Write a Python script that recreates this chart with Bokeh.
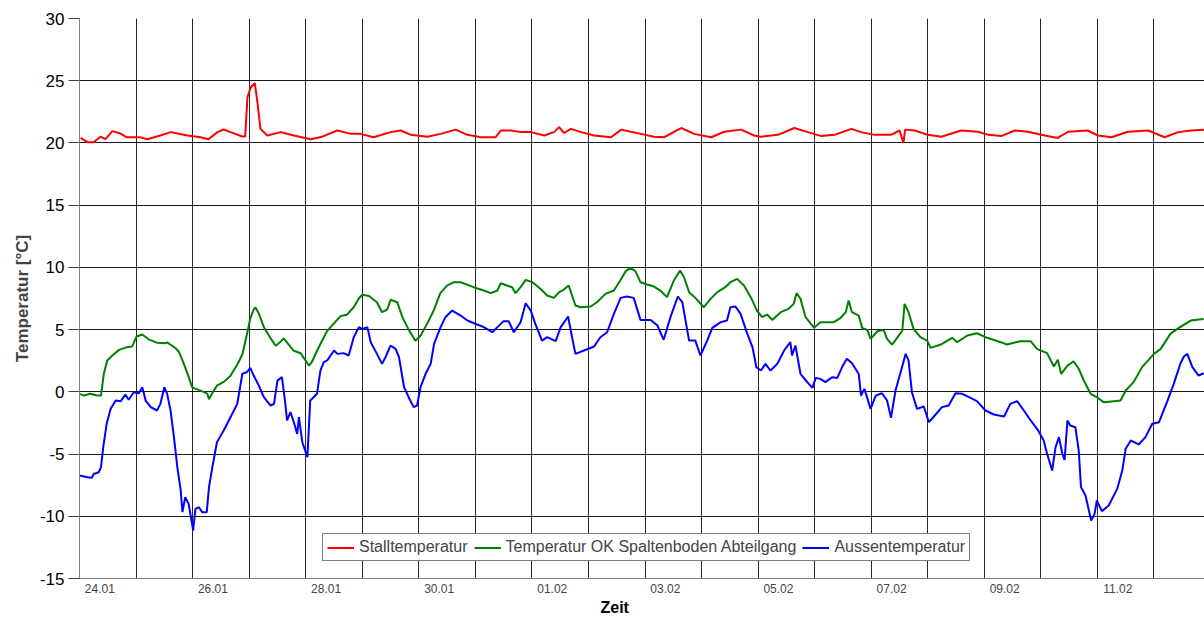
from bokeh.plotting import figure
from bokeh.models import FixedTicker, Range1d, Legend, LegendItem, Title
from bokeh.embed import file_html
from bokeh.resources import INLINE

# time axis: days since 24.01 00:00
tick_labels = ["24.01", "26.01", "28.01", "30.01", "01.02", "03.02", "05.02",
               "07.02", "09.02", "11.02"]
tick_days = [0, 2, 4, 6, 8, 10, 12, 14, 16, 18]
grid_days = list(range(0, 20))
y_ticks = [-15, -10, -5, 0, 5, 10, 15, 20, 25, 30]

stall_t = [0.02, 0.14, 0.25, 0.37, 0.46, 0.58, 0.70, 0.84, 1.08, 1.20, 1.43, 1.61, 1.91,
           2.14, 2.28, 2.44, 2.55, 2.67, 2.88, 2.93, 2.97, 3.03, 3.10, 3.15, 3.20, 3.32,
           3.56, 3.79, 4.09, 4.27, 4.56, 4.80, 4.97, 5.20, 5.50, 5.68, 5.86, 6.15, 6.39,
           6.65, 6.86, 7.10, 7.36, 7.45, 7.63, 7.81, 7.98, 8.22, 8.39, 8.48, 8.57, 8.69,
           8.87, 9.10, 9.40, 9.58, 9.75, 9.93, 10.16, 10.34, 10.52, 10.64, 10.87, 11.17,
           11.40, 11.70, 11.93, 12.05, 12.35, 12.64, 12.88, 13.12, 13.35, 13.65, 13.82,
           14.06, 14.35, 14.50, 14.53, 14.57, 14.60, 14.77, 15.00, 15.24, 15.59, 15.89,
           16.07, 16.30, 16.54, 16.77, 17.07, 17.30, 17.48, 17.83, 18.01, 18.25, 18.54,
           18.90, 19.19, 19.43, 19.66, 19.89]
stall_v = [20.41, 20.06, 20.06, 20.50, 20.30, 20.95, 20.80, 20.45, 20.45, 20.30, 20.60,
           20.87, 20.60, 20.45, 20.30, 20.87, 21.08, 20.87, 20.52, 20.52, 23.68, 24.48,
           24.80, 23.14, 21.13, 20.60, 20.87, 20.60, 20.30, 20.47, 21.00, 20.73, 20.73,
           20.46, 20.87, 21.00, 20.65, 20.50, 20.73, 21.07, 20.65, 20.46, 20.46, 21.00,
           21.00, 20.87, 20.87, 20.60, 20.87, 21.27, 20.80, 21.13, 20.87, 20.60, 20.46,
           21.07, 20.90, 20.73, 20.50, 20.46, 20.90, 21.20, 20.73, 20.46, 20.90, 21.07,
           20.60, 20.50, 20.65, 21.20, 20.87, 20.55, 20.65, 21.13, 20.87, 20.65, 20.65,
           21.00, 20.60, 20.00, 21.07, 21.00, 20.65, 20.50, 21.00, 20.90, 20.65, 20.55,
           21.00, 20.90, 20.60, 20.40, 20.90, 21.00, 20.60, 20.46, 20.90, 21.00, 20.46,
           20.87, 21.00, 21.07]

spalt_t = [0.00, 0.08, 0.19, 0.31, 0.38, 0.43, 0.49, 0.58, 0.70, 0.84, 0.93, 1.01, 1.11,
           1.23, 1.37, 1.52, 1.55, 1.67, 1.70, 1.76, 1.84, 1.93, 1.99, 2.02, 2.14, 2.26,
           2.29, 2.35, 2.43, 2.55, 2.67, 2.79, 2.88, 2.96, 3.02, 3.08, 3.11, 3.17, 3.26,
           3.38, 3.47, 3.55, 3.61, 3.70, 3.79, 3.91, 4.00, 4.06, 4.11, 4.20, 4.29, 4.38,
           4.50, 4.62, 4.73, 4.85, 4.94, 5.00, 5.12, 5.26, 5.35, 5.44, 5.50, 5.62, 5.71,
           5.82, 5.94, 6.03, 6.15, 6.27, 6.38, 6.50, 6.62, 6.74, 6.97, 7.15, 7.27, 7.39,
           7.45, 7.56, 7.65, 7.71, 7.80, 7.89, 8.01, 8.15, 8.27, 8.39, 8.48, 8.56, 8.65,
           8.71, 8.77, 8.86, 9.04, 9.15, 9.30, 9.45, 9.57, 9.66, 9.74, 9.83, 9.92, 10.04,
           10.16, 10.27, 10.39, 10.51, 10.62, 10.69, 10.78, 10.89, 11.04, 11.16, 11.28,
           11.42, 11.51, 11.63, 11.75, 11.87, 11.98, 12.07, 12.16, 12.25, 12.40, 12.54,
           12.63, 12.68, 12.75, 12.84, 12.99, 13.10, 13.34, 13.46, 13.55, 13.60, 13.66,
           13.78, 13.84, 13.93, 13.99, 14.11, 14.22, 14.28, 14.37, 14.49, 14.55, 14.59,
           14.66, 14.75, 14.87, 14.99, 15.05, 15.23, 15.43, 15.52, 15.70, 15.87, 16.05,
           16.29, 16.40, 16.64, 16.82, 16.93, 17.11, 17.23, 17.30, 17.36, 17.47, 17.58,
           17.67, 17.76, 17.88, 17.99, 18.11, 18.29, 18.41, 18.50, 18.64, 18.79, 19.00,
           19.12, 19.29, 19.44, 19.65, 19.88]
spalt_v = [-0.16, -0.30, -0.16, -0.30, -0.30, 1.44, 2.52, 2.92, 3.37, 3.59, 3.64, 4.45,
           4.61, 4.20, 3.95, 3.90, 3.97, 3.60, 3.50, 3.20, 2.30, 1.20, 0.40, 0.30, 0.10,
           -0.15, -0.60, -0.10, 0.50, 0.80, 1.30, 2.20, 3.00, 4.60, 5.90, 6.60, 6.80,
           6.30, 5.20, 4.30, 3.70, 4.00, 4.30, 3.80, 3.30, 3.10, 2.50, 2.10, 2.40, 3.30,
           4.10, 4.90, 5.50, 6.10, 6.20, 6.80, 7.50, 7.80, 7.70, 7.20, 6.40, 6.60, 7.40,
           7.20, 6.00, 5.00, 4.10, 4.50, 5.50, 6.60, 7.93, 8.54, 8.81, 8.81, 8.41, 8.14,
           7.93, 8.14, 8.73, 8.54, 8.41, 7.93, 8.41, 9.00, 8.81, 8.28, 7.74, 7.55, 8.01,
           8.20, 8.54, 7.74, 6.94, 6.80, 6.86, 7.20, 7.87, 8.14, 9.00, 9.70, 9.96, 9.70,
           8.81, 8.62, 8.46, 8.14, 7.61, 8.94, 9.75, 9.21, 8.01, 7.55, 6.80, 7.47, 8.01,
           8.41, 8.81, 9.08, 8.54, 7.61, 6.53, 6.00, 6.21, 5.78, 6.40, 6.67, 7.07, 7.93,
           7.47, 6.00, 5.14, 5.60, 5.60, 5.95, 6.40, 7.34, 6.40, 6.13, 5.14, 4.98, 4.26,
           4.87, 4.98, 4.26, 3.80, 4.53, 4.93, 7.07, 6.40, 5.06, 4.39, 4.12, 3.53, 3.80,
           4.34, 3.99, 4.53, 4.71, 4.34, 3.99, 3.80, 4.07, 4.07, 3.45, 3.11, 2.03, 2.57,
           1.44, 2.11, 2.46, 1.85, 0.91, -0.16, -0.43, -0.83, -0.75, -0.70, 0.11, 0.78,
           1.98, 3.05, 3.45, 4.66, 5.14, 5.73, 5.86]

aussen_t = [0.00, 0.14, 0.22, 0.25, 0.34, 0.38, 0.42, 0.48, 0.55, 0.64, 0.73, 0.81, 0.87,
            0.96, 1.05, 1.11, 1.17, 1.26, 1.37, 1.43, 1.50, 1.55, 1.61, 1.67, 1.73, 1.79,
            1.82, 1.87, 1.93, 2.01, 2.05, 2.11, 2.17, 2.25, 2.29, 2.35, 2.43, 2.55, 2.67,
            2.79, 2.88, 2.96, 3.02, 3.08, 3.17, 3.26, 3.38, 3.44, 3.50, 3.58, 3.64, 3.67,
            3.73, 3.79, 3.85, 3.88, 3.94, 4.03, 4.08, 4.14, 4.20, 4.26, 4.32, 4.38, 4.50,
            4.56, 4.67, 4.76, 4.85, 4.94, 5.00, 5.09, 5.15, 5.26, 5.35, 5.41, 5.50, 5.59,
            5.65, 5.74, 5.82, 5.91, 5.97, 6.03, 6.12, 6.21, 6.27, 6.38, 6.47, 6.59, 6.74,
            6.86, 7.03, 7.15, 7.30, 7.39, 7.50, 7.59, 7.68, 7.80, 7.89, 7.98, 8.06, 8.18,
            8.27, 8.42, 8.51, 8.64, 8.71, 8.77, 8.92, 9.10, 9.21, 9.33, 9.45, 9.57, 9.68,
            9.80, 9.92, 10.10, 10.22, 10.33, 10.45, 10.58, 10.66, 10.78, 10.89, 10.98,
            11.10, 11.19, 11.34, 11.45, 11.51, 11.60, 11.69, 11.81, 11.90, 11.97, 12.05,
            12.13, 12.22, 12.34, 12.46, 12.57, 12.60, 12.66, 12.75, 12.87, 12.96, 13.02,
            13.10, 13.19, 13.31, 13.40, 13.49, 13.57, 13.66, 13.78, 13.82, 13.88, 13.99,
            14.08, 14.19, 14.28, 14.35, 14.43, 14.52, 14.61, 14.66, 14.72, 14.81, 14.93,
            15.02, 15.14, 15.25, 15.37, 15.49, 15.61, 15.73, 15.87, 16.02, 16.17, 16.35,
            16.46, 16.58, 16.70, 16.82, 16.96, 17.05, 17.11, 17.20, 17.26, 17.32, 17.38,
            17.42, 17.47, 17.52, 17.61, 17.67, 17.71, 17.79, 17.85, 17.89, 17.95, 17.99,
            18.08, 18.20, 18.35, 18.44, 18.50, 18.59, 18.73, 18.85, 18.97, 19.09, 19.23,
            19.35, 19.47, 19.53, 19.59, 19.68, 19.79, 19.88]
aussen_v = [-6.73, -6.86, -6.91, -6.60, -6.46, -6.05, -4.45, -2.57, -1.37, -0.70, -0.75,
            -0.22, -0.64, -0.03, -0.11, 0.37, -0.70, -1.23, -1.50, -0.97, 0.37, -0.16,
            -1.50, -3.64, -6.05, -7.93, -9.67, -8.47, -9.00, -11.14, -9.40, -9.27, -9.67,
            -9.67, -7.66, -6.05, -4.05, -3.11, -2.04, -0.97, 1.45, 1.58, 1.93, 1.31, 0.51,
            -0.43, -1.10, -0.97, 0.90, 1.18, -0.97, -2.30, -1.63, -2.44, -3.38, -2.04,
            -4.05, -5.25, -0.70, -0.43, -0.16, 1.71, 2.38, 2.52, 3.32, 3.05, 3.11, 2.92,
            4.39, 5.20, 5.06, 5.20, 3.99, 3.05, 2.25, 2.78, 3.72, 3.45, 2.78, 0.37, -0.43,
            -1.23, -1.10, 0.37, 1.45, 2.25, 3.86, 5.14, 6.00, 6.53, 6.13, 5.73, 5.41, 5.20,
            4.79, 5.20, 5.68, 5.68, 4.79, 5.60, 7.12, 6.53, 5.46, 4.12, 4.39, 4.07, 5.20,
            6.05, 4.39, 3.05, 3.32, 3.64, 4.39, 4.79, 6.27, 7.55, 7.66, 7.55, 5.78, 5.78,
            5.33, 4.18, 6.00, 7.66, 7.20, 4.12, 4.12, 2.92, 4.12, 5.14, 5.60, 5.73, 6.80,
            6.86, 6.27, 4.66, 3.59, 1.98, 1.71, 2.25, 1.71, 2.25, 3.32, 3.99, 2.92, 3.72,
            1.45, 0.78, 0.32, 1.12, 1.04, 0.78, 1.18, 1.12, 2.03, 2.65, 2.30, 1.44, -0.30,
            0.24, -1.37, -0.30, -0.11, -0.70, -2.09, 0.11, 1.58, 3.05, 2.52, -0.03, -1.37,
            -1.18, -2.44, -1.82, -1.23, -1.10, -0.11, -0.16, -0.43, -0.75, -1.50, -1.82,
            -1.98, -0.97, -0.75, -1.50, -2.30, -3.16, -3.91, -4.98, -6.32, -4.45, -3.64,
            -4.98, -5.47, -2.30, -2.71, -2.84, -4.72, -7.66, -8.33, -9.54, -10.34, -9.81,
            -8.73, -9.59, -9.14, -7.80, -6.32, -4.58, -3.91, -4.23, -3.64, -2.57, -2.44,
            -0.83, 0.64, 2.30, 2.84, 3.05, 1.98, 1.31, 1.50]

FONT = "Liberation Sans"
DAY_PX = 56.55
FRAME_W = 1125

p = figure(width=1204, height=618, output_backend="svg", toolbar_location=None,
           x_range=Range1d(0, FRAME_W / DAY_PX), y_range=Range1d(-15, 30),
           min_border_left=79, min_border_right=0, min_border_top=18,
           min_border_bottom=40)
p.outline_line_color = None
p.background_fill_color = "white"
p.border_fill_color = "white"

# y axis
p.yaxis.ticker = FixedTicker(ticks=y_ticks)
p.yaxis.major_label_overrides = {t: str(t) for t in y_ticks}
p.yaxis.axis_label = "Temperatur [°C]"
p.yaxis.axis_label_text_font = FONT
p.yaxis.axis_label_text_font_style = "bold"
p.yaxis.axis_label_text_font_size = "17px"
p.yaxis.axis_label_standoff = 5
p.yaxis.major_label_text_font = FONT
p.yaxis.major_label_text_font_size = "17px"
p.yaxis.major_label_text_color = "black"
p.yaxis.major_label_standoff = 4
p.yaxis.major_tick_out = 11
p.yaxis.major_tick_in = 0
p.yaxis.minor_tick_out = 0
p.yaxis.minor_tick_in = 0
p.yaxis.axis_line_color = "#808080"
p.yaxis.major_tick_line_color = "#404040"

# x axis: labels sit just right of their day line
p.xaxis.ticker = FixedTicker(ticks=[d + 0.36 for d in tick_days])
p.xaxis.major_label_overrides = {d + 0.36: lab for d, lab in zip(tick_days, tick_labels)}
p.xaxis.major_label_text_font = FONT
p.xaxis.major_label_text_font_size = "12px"
p.xaxis.major_label_standoff = 5
p.xaxis.major_tick_out = 0
p.xaxis.major_tick_in = 0
p.xaxis.minor_tick_out = 0
p.xaxis.minor_tick_in = 0
p.xaxis.axis_line_color = "#808080"

# x axis title, a little left of the frame centre as in the original
p.add_layout(Title(text="Zeit", align="left", offset=521, standoff=2,
                   text_font=FONT, text_font_style="bold", text_font_size="16px",
                   text_color="black"), "below")

p.xgrid.ticker = FixedTicker(ticks=grid_days)
p.xgrid.grid_line_color = "#000000"
p.xgrid.grid_line_alpha = 0.85
p.ygrid.ticker = FixedTicker(ticks=y_ticks)
p.ygrid.grid_line_color = "#000000"
p.ygrid.grid_line_alpha = 0.9

r1 = p.line(stall_t, stall_v, line_color="#FF0000", line_width=2)
r2 = p.line(spalt_t, spalt_v, line_color="#008000", line_width=2)
r3 = p.line(aussen_t, aussen_v, line_color="#0000FF", line_width=2)

legend = Legend(items=[LegendItem(label="Stalltemperatur", renderers=[r1]),
                       LegendItem(label="Temperatur OK Spaltenboden Abteilgang", renderers=[r2]),
                       LegendItem(label="Aussentemperatur", renderers=[r3])],
                location=(243, 17), orientation="horizontal")
legend.label_text_font = FONT
legend.label_text_font_size = "16px"
legend.label_height = 15
legend.glyph_height = 15
legend.glyph_width = 27
legend.label_standoff = 5
legend.spacing = 6
legend.padding = 4
legend.margin = 0
legend.border_line_color = "black"
legend.border_line_width = 1
legend.background_fill_color = "white"
legend.background_fill_alpha = 1
p.add_layout(legend)

open("out.html", "w").write(file_html(p, INLINE))
